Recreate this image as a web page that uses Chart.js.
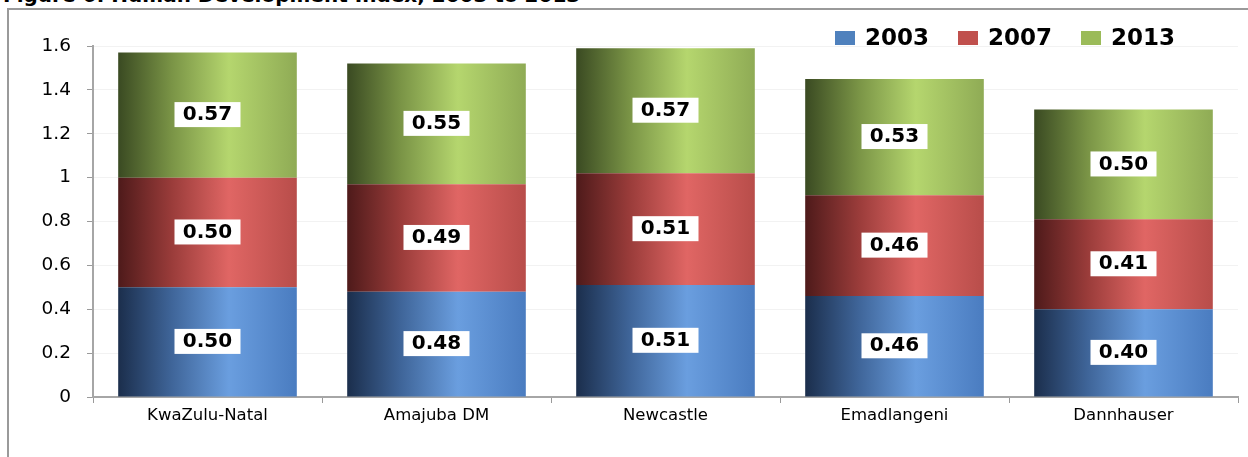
<!DOCTYPE html>
<html>
<head>
<meta charset="utf-8">
<script src="https://cdn.jsdelivr.net/npm/chart.js@4/dist/chart.umd.min.js"></script>
<style>
  body { margin: 0; background: #fff; overflow: hidden; }
  #wrap { position: relative; width: 1248px; height: 457px; overflow: hidden; }
  #title { position: absolute; left: 3px; top: -15px; font: bold 20px "DejaVu Sans", sans-serif; line-height: 20px; white-space: nowrap; color: #000; }
  #frame { position: absolute; left: 7px; top: 8px; width: 1280px; height: 480px; border-left: 2px solid #9a9a9a; border-top: 2px solid #9a9a9a; }
  canvas { position: absolute; left: 0; top: 0; }
</style>
</head>
<body>
<div id="wrap">
  <div id="title">Figure 6: Human Development Index, 2003 to 2013</div>
  <div id="frame"></div>
  <canvas id="myChart" width="1248" height="457"></canvas>
</div>
<script>
var areas = ['KwaZulu-Natal', 'Amajuba DM', 'Newcastle', 'Emadlangeni', 'Dannhauser'];
var hdi2003 = [0.50, 0.48, 0.51, 0.46, 0.40];
var hdi2007 = [0.50, 0.49, 0.51, 0.46, 0.41];
var hdi2013 = [0.57, 0.55, 0.57, 0.53, 0.50];
var yTicks = [0, 0.2, 0.4, 0.6, 0.8, 1, 1.2, 1.4, 1.6];

var barPct = 0.78;

// dark left edge, highlight a bit right of middle, slightly darker right edge
function shade(stops, solid) {
    return function (c) {
        var chart = c.chart;
        var x = chart.scales.x;
        if (!x || !chart.chartArea || c.dataIndex === undefined) return solid;
        var cx = x.getPixelForValue(c.dataIndex);
        var w = x.width / areas.length * barPct;
        var g = chart.ctx.createLinearGradient(cx - w / 2, 0, cx + w / 2, 0);
        g.addColorStop(0, stops[0]);
        g.addColorStop(0.3, stops[1]);
        g.addColorStop(0.62, stops[2]);
        g.addColorStop(1, stops[3]);
        return g;
    };
}

var labelBoxes = {
    id: 'labelBoxes',
    afterDatasetsDraw: function (chart) {
        var ctx = chart.ctx;
        ctx.save();
        ctx.font = 'bold 20px "DejaVu Sans", sans-serif';
        ctx.textAlign = 'center';
        ctx.textBaseline = 'middle';
        chart.data.datasets.forEach(function (ds, i) {
            chart.getDatasetMeta(i).data.forEach(function (bar, j) {
                var cy = (bar.y + bar.base) / 2;
                ctx.fillStyle = '#fff';
                ctx.fillRect(bar.x - 33, cy - 13, 66, 25);
                ctx.fillStyle = '#000';
                ctx.fillText(ds.data[j].toFixed(2), bar.x, cy);
            });
        });
        ctx.restore();
    }
};

var topLegend = {
    id: 'topLegend',
    afterDraw: function (chart) {
        var ctx = chart.ctx;
        var xs = [835, 958, 1081];
        ctx.save();
        ctx.font = 'bold 23px "DejaVu Sans", sans-serif';
        ctx.textBaseline = 'middle';
        chart.data.datasets.forEach(function (ds, i) {
            ctx.fillStyle = ds.legendColor;
            ctx.fillRect(xs[i], 31, 20, 14);
            ctx.fillStyle = '#000';
            ctx.fillText(ds.label, xs[i] + 30, 39);
        });
        ctx.restore();
    }
};

var ctx = document.getElementById('myChart').getContext('2d');
var myChart = new Chart(ctx, {
    type: 'bar',
    data: {
        labels: areas,
        datasets: [
            {
                label: '2003',
                data: hdi2003,
                legendColor: '#4f81bd',
                backgroundColor: shade(['#1b2e4c', '#3f6599', '#6a9edf', '#4a7cc0'], '#4f81bd')
            },
            {
                label: '2007',
                data: hdi2007,
                legendColor: '#c0504d',
                backgroundColor: shade(['#4e1a1a', '#9a3c3a', '#e06664', '#b84d4a'], '#c0504d')
            },
            {
                label: '2013',
                data: hdi2013,
                legendColor: '#9bbb59',
                backgroundColor: shade(['#3a4a22', '#7a9446', '#b5d66e', '#8fab55'], '#9bbb59')
            }
        ]
    },
    options: {
        responsive: false,
        animation: false,
        layout: { padding: { left: 0, right: 10, top: 46, bottom: 0 } },
        datasets: {
            bar: { categoryPercentage: 1, barPercentage: barPct, borderWidth: 0 }
        },
        plugins: {
            legend: { display: false },
            tooltip: { enabled: false }
        },
        scales: {
            x: {
                stacked: true,
                afterFit: function (s) { s.height = 60; },
                grid: { drawOnChartArea: false, tickLength: 6, color: '#9a9a9a', offset: true },
                border: { color: '#a6a6a6', width: 2 },
                ticks: { color: '#000', padding: 3, font: { family: 'DejaVu Sans', size: 16.5 } }
            },
            y: {
                stacked: true,
                min: 0,
                max: 1.6,
                afterFit: function (s) { s.width = 93; },
                afterBuildTicks: function (s) { s.ticks = yTicks.map(function (v) { return { value: v }; }); },
                grid: { color: 'rgba(0,0,0,0.05)', tickColor: '#9a9a9a', tickLength: 6 },
                border: { color: '#a6a6a6', width: 2 },
                ticks: {
                    color: '#000',
                    padding: 16,
                    font: { family: 'DejaVu Sans', size: 18.5 },
                    callback: function (v) { return String(Math.round(v * 10) / 10); }
                }
            }
        }
    },
    plugins: [labelBoxes, topLegend]
});
</script>
</body>
</html>
